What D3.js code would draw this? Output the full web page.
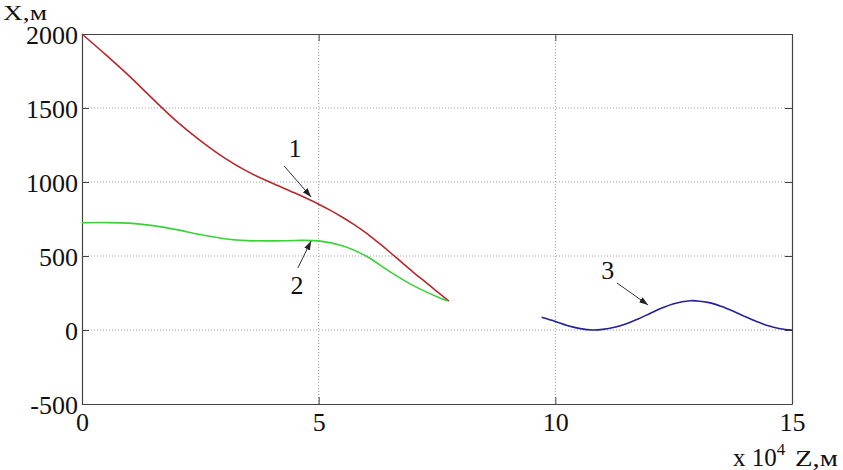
<!DOCTYPE html>
<html><head><meta charset="utf-8">
<script src="https://cdn.jsdelivr.net/npm/d3@7"></script>
<style>
html,body{margin:0;padding:0;background:#fff;}
svg text{font-family:"Liberation Serif","DejaVu Serif","Times New Roman",serif;fill:#111;}
</style></head>
<body>
<svg id="chart" width="843" height="470"></svg>
<script>
// Data (Z in units of 10^4 m, X in m)
const curve1Z = [0, 0.5, 1, 1.5, 2, 2.5, 3, 3.5, 4, 4.5, 5, 5.25, 5.5, 5.75, 6, 6.25, 6.5, 6.75, 7, 7.25, 7.5, 7.75];
const curve1X = [2000, 1860, 1715, 1560, 1410, 1280, 1165, 1070, 995, 925, 850, 808, 762, 712, 656, 593, 527, 458, 390, 325, 260, 195];
const curve2Z = [0, 0.5, 1, 1.5, 2, 2.5, 3, 3.5, 4, 4.5, 5, 5.5, 6, 6.5, 7, 7.5, 7.72];
const curve2X = [725, 726, 722, 705, 678, 645, 617, 604, 602, 605, 602, 570, 500, 395, 300, 225, 197];
const curve3Z = [9.71, 10, 10.25, 10.5, 10.8, 11, 11.25, 11.5, 11.75, 12, 12.25, 12.5, 12.85, 13, 13.25, 13.5, 13.75, 14, 14.25, 14.5, 14.75, 15];
const curve3X = [86, 58, 30, 11, 0, 4, 18, 42, 75, 112, 148, 178, 198, 196, 185, 160, 128, 92, 58, 28, 8, 0];
const xTicks = [0, 5, 10, 15];
const yTicks = [-500, 0, 500, 1000, 1500, 2000];
const curveLabels = ["1", "2", "3"];
const labelZ = [4.5, 4.54, 11.11];
const labelX = [1230, 304, 405];
const arrowFromZ = [4.27, 4.56, 11.30];
const arrowFromX = [1108, 419, 318];
const arrowToZ = [4.84, 4.84, 11.96];
const arrowToX = [899, 601, 169];

const FONT = "Liberation Serif, DejaVu Serif, Times New Roman, serif";
const svg = d3.select("#chart");
const L = 82, R = 792, T = 34, B = 404;
const x = d3.scaleLinear().domain([0, 15]).range([L, R]);
const y = d3.scaleLinear().domain([-500, 2000]).range([B, T]);

// grid
const grid = svg.append("g").attr("stroke", "#a0a0a0").attr("stroke-width", 1).attr("stroke-dasharray", "1,2");
xTicks.filter(t => t > 0 && t < 15).forEach(t => {
  grid.append("line").attr("x1", x(t)).attr("x2", x(t)).attr("y1", T).attr("y2", B);
});
yTicks.filter(t => t > -500 && t < 2000).forEach(t => {
  grid.append("line").attr("x1", L).attr("x2", R).attr("y1", y(t)).attr("y2", y(t));
});

// axes with inside ticks
const axisCol = "#444";
const tl = 7;
const fmt = d => String(d);
const gB = svg.append("g").attr("transform", `translate(0,${B})`).call(d3.axisBottom(x).tickValues(xTicks).tickFormat(fmt).tickSizeInner(-tl).tickSizeOuter(0).tickPadding(9));
const gT = svg.append("g").attr("transform", `translate(0,${T})`).call(d3.axisTop(x).tickValues(xTicks).tickSizeInner(-tl).tickSizeOuter(0).tickFormat(""));
const gL = svg.append("g").attr("transform", `translate(${L},0)`).call(d3.axisLeft(y).tickValues(yTicks).tickFormat(fmt).tickSizeInner(-tl).tickSizeOuter(0).tickPadding(4));
const gR = svg.append("g").attr("transform", `translate(${R},0)`).call(d3.axisRight(y).tickValues(yTicks).tickSizeInner(-tl).tickSizeOuter(0).tickFormat(""));
[gB, gT, gL, gR].forEach(g => {
  g.attr("font-family", FONT).attr("font-size", 26);
  g.selectAll("path").attr("stroke", axisCol).attr("stroke-width", 1.2);
  g.selectAll("line").attr("stroke", axisCol).attr("stroke-width", 1);
  g.selectAll("text").attr("fill", "#111");
});
gB.selectAll("text").attr("dy", "0.71em");
gL.selectAll("text").attr("dy", "0.36em");

// curves
const line = d3.line().x(d => x(d[0])).y(d => y(d[1])).curve(d3.curveCatmullRom.alpha(0.5));
const series = [
  {z: curve1Z, v: curve1X, c: "#b8282c"},
  {z: curve2Z, v: curve2X, c: "#3cd03c"},
  {z: curve3Z, v: curve3X, c: "#22229a"}
];
series.forEach(s => {
  svg.append("path").datum(s.z.map((z, i) => [z, s.v[i]]))
    .attr("d", line).attr("fill", "none").attr("stroke", s.c).attr("stroke-width", 1.6);
});

// arrows
const defs = svg.append("defs");
defs.append("marker").attr("id", "ah").attr("viewBox", "0 0 10 10").attr("refX", 10).attr("refY", 5)
  .attr("markerWidth", 9).attr("markerHeight", 9).attr("orient", "auto").attr("markerUnits", "userSpaceOnUse")
  .append("path").attr("d", "M0,1.5 L10,5 L0,8.5 Z").attr("fill", "#222");
curveLabels.forEach((lab, i) => {
  svg.append("line").attr("x1", x(arrowFromZ[i])).attr("y1", y(arrowFromX[i]))
    .attr("x2", x(arrowToZ[i])).attr("y2", y(arrowToX[i]))
    .attr("stroke", "#333").attr("stroke-width", 1).attr("marker-end", "url(#ah)");
  svg.append("text").attr("x", x(labelZ[i])).attr("y", y(labelX[i])).attr("dy", "0.35em")
    .attr("text-anchor", "middle").attr("font-family", FONT).attr("font-size", 26).text(lab);
});

// axis titles
svg.append("text").attr("x", 3).attr("y", 20).attr("font-family", FONT).attr("font-size", 21)
  .attr("textLength", 44).attr("lengthAdjust", "spacingAndGlyphs").text("X,м");
const xl = svg.append("text").attr("x", 733).attr("y", 466).attr("font-family", FONT).attr("font-size", 25);
xl.append("tspan").text("x 10");
xl.append("tspan").attr("dy", -11).attr("font-size", 17).text("4");
svg.append("text").attr("x", 795).attr("y", 466).attr("font-family", FONT).attr("font-size", 23)
  .attr("textLength", 43).attr("lengthAdjust", "spacingAndGlyphs").text("Z,м");
</script>
</body></html>
